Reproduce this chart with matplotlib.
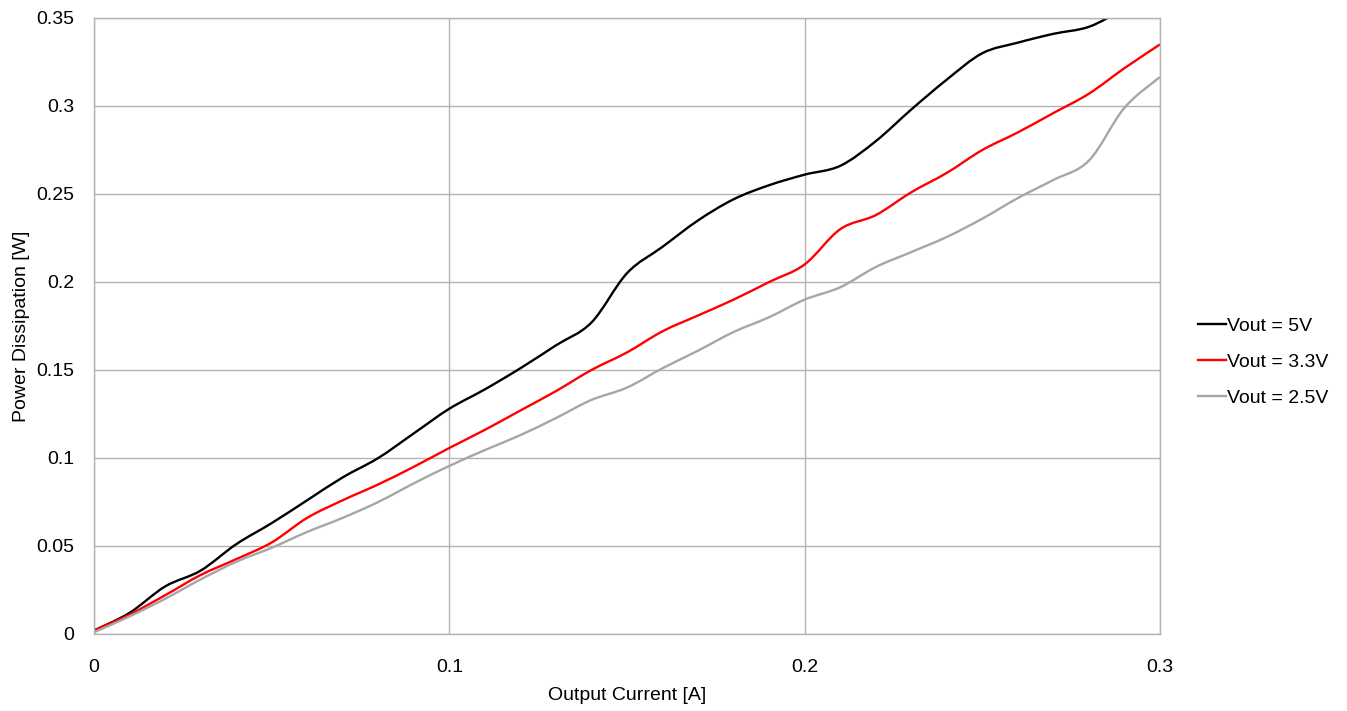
import numpy as np
import matplotlib
matplotlib.use("Agg")
import matplotlib.pyplot as plt
from matplotlib.path import Path
from matplotlib.patches import PathPatch
from matplotlib.lines import Line2D

plt.rcParams['font.family'] = ['Liberation Sans', 'DejaVu Sans']

current = [0.00, 0.01, 0.02, 0.03, 0.04, 0.05, 0.06, 0.07, 0.08, 0.09,
           0.10, 0.11, 0.12, 0.13, 0.14, 0.15, 0.16, 0.17, 0.18, 0.19,
           0.20, 0.21, 0.22, 0.23, 0.24, 0.25, 0.26, 0.27, 0.28, 0.29, 0.30]
p_5v = [0.002, 0.012, 0.027, 0.036, 0.051, 0.063, 0.076, 0.089, 0.100, 0.114,
        0.128, 0.139, 0.151, 0.164, 0.177, 0.205, 0.220, 0.235, 0.247, 0.255,
        0.261, 0.266, 0.280, 0.298, 0.315, 0.330, 0.336, 0.341, 0.345, 0.355, 0.363]
p_3v3 = [0.002, 0.011, 0.022, 0.0335, 0.0425, 0.052, 0.066, 0.076, 0.085, 0.095,
         0.1057, 0.116, 0.127, 0.138, 0.150, 0.160, 0.172, 0.181, 0.190, 0.200,
         0.210, 0.230, 0.238, 0.251, 0.262, 0.275, 0.285, 0.296, 0.307, 0.3215, 0.335]
p_2v5 = [0.001, 0.010, 0.020, 0.031, 0.041, 0.049, 0.058, 0.066, 0.075, 0.0856,
         0.0955, 0.1045, 0.113, 0.1227, 0.133, 0.140, 0.151, 0.161, 0.1716, 0.180,
         0.190, 0.197, 0.2085, 0.217, 0.2256, 0.236, 0.2477, 0.258, 0.269, 0.299, 0.3165]
labels = ["Vout = 5V", "Vout = 3.3V", "Vout = 2.5V"]
colors = ["#000000", "#ff0000", "#a6a6a6"]

xticks = [0, 0.1, 0.2, 0.3]
xticklabels = ["0", "0.1", "0.2", "0.3"]
yticks = [0, 0.05, 0.1, 0.15, 0.2, 0.25, 0.3, 0.35]
yticklabels = ["0", "0.05", "0.1", "0.15", "0.2", "0.25", "0.3", "0.35"]


def smooth_path(x, y, t=1/6):
    x = np.asarray(x, float); y = np.asarray(y, float)
    n = len(x)
    verts = [(x[0], y[0])]
    codes = [Path.MOVETO]
    for i in range(n - 1):
        x0, y0 = (x[i - 1], y[i - 1]) if i > 0 else (x[i], y[i])
        x3, y3 = (x[i + 2], y[i + 2]) if i + 2 < n else (x[i + 1], y[i + 1])
        c1 = (x[i] + (x[i + 1] - x0) * t, y[i] + (y[i + 1] - y0) * t)
        c2 = (x[i + 1] - (x3 - x[i]) * t, y[i + 1] - (y3 - y[i]) * t)
        verts += [c1, c2, (x[i + 1], y[i + 1])]
        codes += [Path.CURVE4] * 3
    return Path(verts, codes)


fig = plt.figure(figsize=(13.47, 7.11), dpi=100)
ax = fig.add_axes([94/1347, 1 - 634/711, (1160 - 94)/1347, (634 - 18)/711])

handles = []
for ys, c, lab in zip([p_5v, p_3v3, p_2v5], colors, labels):
    patch = PathPatch(smooth_path(current, ys), facecolor='none', edgecolor=c,
                      lw=1.7, transform=ax.transData, clip_on=True)
    ax.add_patch(patch)
    handles.append(Line2D([], [], color=c, lw=1.7, label=lab))

ax.set_xlim(0, 0.3)
ax.set_ylim(0, 0.35)
ax.set_xticks(xticks)
ax.set_xticklabels(xticklabels)
ax.set_yticks(yticks)
ax.set_yticklabels(yticklabels)
ax.tick_params(length=0, labelsize=14, colors='black')
ax.tick_params(axis='x', pad=18)
ax.tick_params(axis='y', pad=14)
ax.grid(True, color='#b3b3b3', lw=1.0)
ax.set_axisbelow(True)
for s in ax.spines.values():
    s.set_color('#b3b3b3')
    s.set_linewidth(1.0)

ax.set_xlabel("Output Current [A]", fontsize=14, labelpad=8)
ax.set_ylabel("Power Dissipation [W]", fontsize=14, labelpad=5)

fig.legend(handles=handles, loc='center left', bbox_to_anchor=(1180/1347, 1 - 362/711),
           frameon=False, fontsize=14, handlelength=1.45, handletextpad=0.08,
           labelspacing=0.95)

fig.savefig("out.png", dpi=100)
